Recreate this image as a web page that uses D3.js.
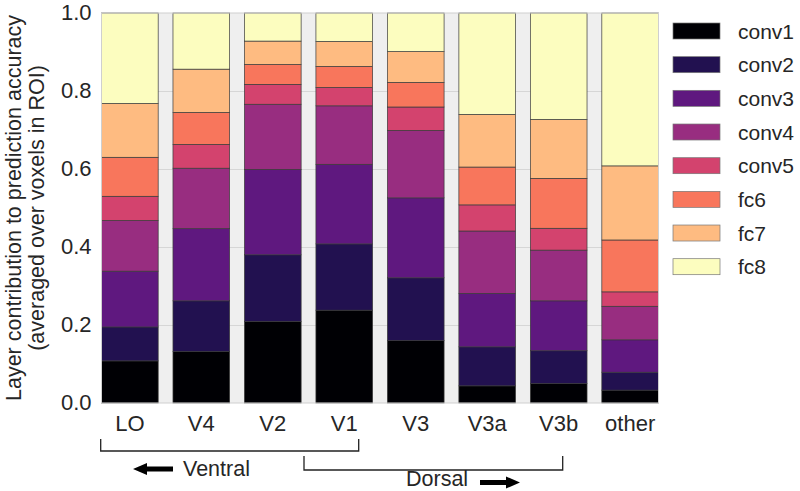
<!DOCTYPE html>
<html>
<head>
<meta charset="utf-8">
<script src="https://cdn.jsdelivr.net/npm/d3@7"></script>
<style>
  html, body { margin: 0; padding: 0; background: #fff; }
  svg { display: block; font-family: "Liberation Sans", Arial, sans-serif; }
</style>
</head>
<body>
<svg id="chart" width="800" height="491"></svg>
<script>
// ---- data ----
const regions = ["LO", "V4", "V2", "V1", "V3", "V3a", "V3b", "other"];
const layers = ["conv1", "conv2", "conv3", "conv4", "conv5", "fc6", "fc7", "fc8"];
// contribution of each layer per region (same order as regions)
const conv1 = [0.108, 0.132, 0.209, 0.238, 0.160, 0.044, 0.050, 0.033];
const conv2 = [0.087, 0.130, 0.171, 0.170, 0.161, 0.100, 0.084, 0.046];
const conv3 = [0.143, 0.185, 0.219, 0.204, 0.205, 0.137, 0.128, 0.083];
const conv4 = [0.130, 0.155, 0.167, 0.150, 0.173, 0.160, 0.130, 0.086];
const conv5 = [0.062, 0.061, 0.051, 0.047, 0.060, 0.067, 0.056, 0.037];
const fc6   = [0.100, 0.082, 0.051, 0.054, 0.063, 0.097, 0.128, 0.133];
const fc7   = [0.138, 0.111, 0.060, 0.064, 0.079, 0.135, 0.151, 0.190];
const fc8   = [0.232, 0.144, 0.072, 0.073, 0.099, 0.260, 0.273, 0.392];
const yTicks = [0.0, 0.2, 0.4, 0.6, 0.8, 1.0];

const seriesValues = { conv1, conv2, conv3, conv4, conv5, fc6, fc7, fc8 };
const colors = ["#000004", "#221150", "#5f187f", "#982d80", "#d3436e", "#f8765c", "#febb81", "#fcfdbf"];

// ---- layout ----
const svg = d3.select("#chart");
const plot = { left: 101.5, right: 658.5, top: 13, bottom: 403 };
const textColor = "#262626";

const x = d3.scaleBand().domain(regions).range([plot.left, plot.right])
  .paddingInner(0.207).paddingOuter(0);
const y = d3.scaleLinear().domain([0, 1]).range([plot.bottom, plot.top]);
const color = d3.scaleOrdinal().domain(layers).range(colors);

// table for stacking
const table = regions.map((r, i) => {
  const row = { region: r };
  layers.forEach(l => row[l] = seriesValues[l][i]);
  return row;
});
const stacked = d3.stack().keys(layers)(table);

// background
svg.append("rect")
  .attr("x", plot.left).attr("y", plot.top)
  .attr("width", plot.right - plot.left).attr("height", plot.bottom - plot.top)
  .attr("fill", "#efefef");

// grid
svg.append("g").selectAll("line").data(yTicks.filter(t => t > 0 && t < 1)).join("line")
  .attr("x1", plot.left).attr("x2", plot.right)
  .attr("y1", d => Math.round(y(d)) + 0.5).attr("y2", d => Math.round(y(d)) + 0.5)
  .attr("stroke", "#d6d6d6").attr("stroke-width", 1);

// bars
svg.append("g").selectAll("g").data(stacked).join("g")
  .attr("fill", d => color(d.key))
  .selectAll("rect").data(d => d).join("rect")
  .attr("x", d => x(d.data.region))
  .attr("width", x.bandwidth())
  .attr("y", d => y(d[1]))
  .attr("height", d => y(d[0]) - y(d[1]))
  .attr("stroke", "#3a3a3a").attr("stroke-width", 0.7);

// frame
svg.append("rect")
  .attr("x", plot.left).attr("y", plot.top)
  .attr("width", plot.right - plot.left).attr("height", plot.bottom - plot.top)
  .attr("fill", "none").attr("stroke", "#cfcfcf").attr("stroke-width", 1);

// y axis
const yAxis = d3.axisLeft(y).tickValues(yTicks).tickFormat(d3.format(".1f")).tickSize(0).tickPadding(10);
const gy = svg.append("g").attr("transform", `translate(${plot.left},0)`).call(yAxis);
gy.select(".domain").remove();
gy.selectAll("text").attr("font-size", 22).attr("fill", textColor)
  .attr("font-family", "Liberation Sans, Arial, sans-serif").attr("dy", "0.28em");

// x axis
const xAxis = d3.axisBottom(x).tickSize(0).tickPadding(12);
const gx = svg.append("g").attr("transform", `translate(0,${plot.bottom})`).call(xAxis);
gx.select(".domain").remove();
gx.selectAll("text").attr("font-size", 22).attr("fill", textColor)
  .attr("font-family", "Liberation Sans, Arial, sans-serif");

// y label
const yl = svg.append("text")
  .attr("transform", `translate(20.5,208) rotate(-90)`)
  .attr("text-anchor", "middle").attr("font-size", 21.5).attr("fill", textColor);
yl.append("tspan").attr("x", 0).attr("dy", 0).text("Layer contribution to prediction accuracy");
yl.append("tspan").attr("x", 0).attr("dy", 23).text("(averaged over voxels in ROI)");

// legend
const lg = svg.append("g");
layers.forEach((l, i) => {
  const cy = 31 + i * 33.67;
  lg.append("rect").attr("x", 673).attr("y", cy - 8).attr("width", 47).attr("height", 16)
    .attr("fill", color(l)).attr("stroke", "#777").attr("stroke-width", 0.7);
  lg.append("text").attr("x", 738).attr("y", cy).attr("dy", "0.36em")
    .attr("font-size", 21).attr("fill", textColor).text(l);
});

// brackets
const ann = svg.append("g").attr("stroke", "#222").attr("stroke-width", 1.3).attr("fill", "none");
ann.append("path").attr("d", "M100.7,439 V451 H358.7 V439");
ann.append("path").attr("d", "M304,456 V470 H562.7 V456");

// arrows
svg.append("path").attr("d", "M133,469 L147,463 L147,466.5 L173,466.5 L173,471.5 L147,471.5 L147,475 Z")
  .attr("fill", "#000");
svg.append("path").attr("d", "M520,482.5 L506,476.5 L506,480 L480,480 L480,485 L506,485 L506,488.5 Z")
  .attr("fill", "#000");
svg.append("text").attr("x", 183).attr("y", 476).attr("font-size", 21.5).attr("fill", textColor).text("Ventral");
svg.append("text").attr("x", 406).attr("y", 486).attr("font-size", 21.5).attr("fill", textColor).text("Dorsal");
</script>
</body>
</html>
